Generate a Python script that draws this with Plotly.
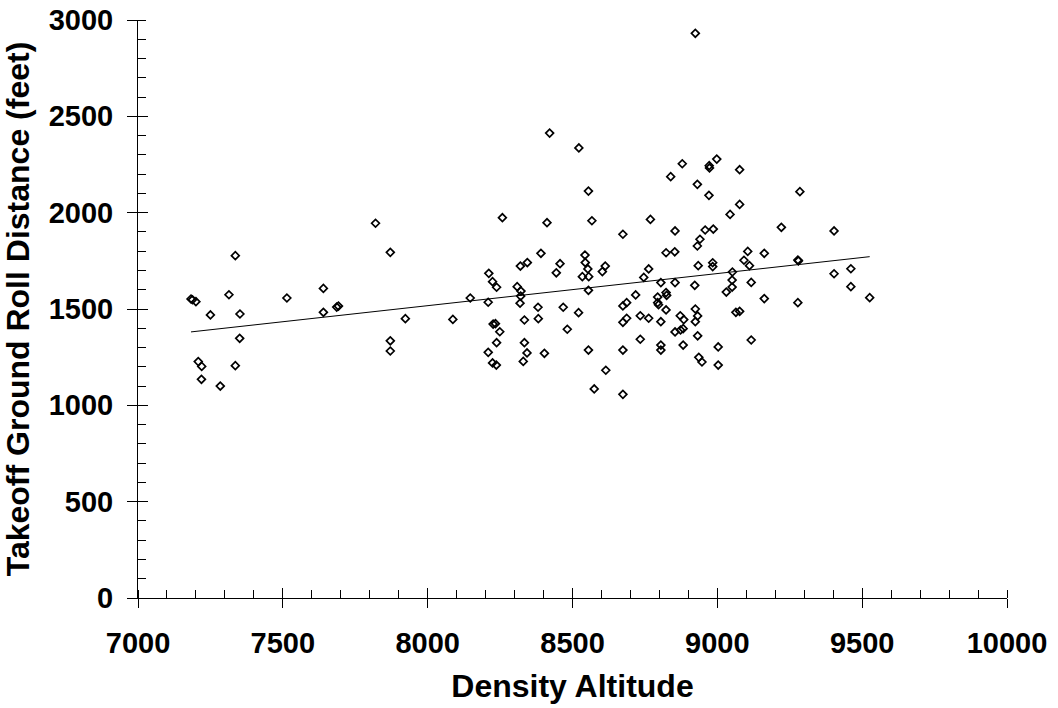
import numpy as np
import plotly.graph_objects as go

# Density altitude (ft) and measured takeoff ground roll (ft)
density_altitude = [
    7183, 7188, 7200, 7250, 7336, 7314, 7352, 7351, 7208, 7220, 7219, 7284,
    7336, 7514, 7640, 7640, 7686, 7692, 7820, 7871, 7923, 7871, 7871,
    8421, 8522, 8555, 8258, 8412, 8567, 8769, 8674, 8879, 8839, 8972, 8973,
    8998, 8931, 8971, 8854, 8958, 8986, 8940, 8931, 8823, 8853, 8984, 8984,
    8934, 8391, 8457, 8543, 8544, 8553, 8534, 8556, 8613, 8603, 8320, 8344,
    8444, 8211, 8224, 8238, 8309, 8322, 8321, 8319, 8147, 8209, 8087, 8555,
    8746, 8763, 8805, 8854, 8922, 8718, 8794, 8823, 8825, 8794, 8797, 8687,
    8674, 8823, 8924, 8932, 8381, 8468, 8521, 8334, 8382, 8226, 8234, 8249,
    8238, 8209, 8224, 8237, 8334, 8343, 8330, 8403, 8482, 8555, 8615, 8575,
    8674, 8674, 8674, 8687, 8734, 8763, 8805, 8734, 8805, 8805, 8872, 8884,
    8873, 8882, 8854, 8882, 8924, 8932, 8936, 8947, 9003, 9003, 8924,
    9077, 9077, 9044, 9285, 9221, 9403, 9105, 9162, 9092, 9111, 9278, 9280,
    9052, 9403, 9461, 9051, 9117, 9051, 9031, 9461, 9526, 9162, 9278, 9064,
    9077, 9117,
]
ground_roll = [
    1552, 1548, 1538, 1469, 1777, 1574, 1474, 1348, 1227, 1202, 1135, 1100,
    1206, 1557, 1607, 1483, 1510, 1515, 1945, 1794, 1450, 1335, 1282,
    2413, 2336, 2112, 1974, 1948, 1958, 1965, 1888, 2254, 2187, 2244, 2232,
    2278, 2147, 2090, 1905, 1910, 1915, 1862, 1827, 1792, 1797, 1740, 1720,
    1725, 1789, 1735, 1780, 1741, 1708, 1668, 1668, 1723, 1694, 1723, 1741,
    1688, 1685, 1642, 1613, 1616, 1593, 1567, 1530, 1557, 1535, 1446, 1597,
    1664, 1708, 1637, 1637, 1623, 1573, 1562, 1585, 1571, 1533, 1522, 1533,
    1516, 1495, 1500, 1464, 1509, 1509, 1481, 1443, 1450, 1422, 1424, 1382,
    1325, 1275, 1220, 1209, 1325, 1272, 1228, 1270, 1395, 1287, 1182, 1085,
    1057, 1287, 1431, 1452, 1465, 1452, 1434, 1343, 1313, 1287, 1465, 1445,
    1391, 1398, 1381, 1313, 1434, 1361, 1249, 1225, 1303, 1209, 2931,
    2223, 2043, 1991, 2109, 1924, 1905, 1799, 1789, 1753, 1725, 1754, 1750,
    1692, 1683, 1709, 1650, 1638, 1614, 1588, 1616, 1559, 1554, 1533, 1483,
    1488, 1339,
]

x_ticks = [7000, 7500, 8000, 8500, 9000, 9500, 10000]
y_ticks = [0, 500, 1000, 1500, 2000, 2500, 3000]

# least-squares trend line across the observed altitude range
xa = np.array(density_altitude, dtype=float)
ya = np.array(ground_roll, dtype=float)
slope, intercept = np.polyfit(xa, ya, 1)
fit_x = np.array([xa.min(), xa.max()])
fit_y = slope * fit_x + intercept

FONT = "Liberation Sans, Arial, sans-serif"

fig = go.Figure()
fig.add_trace(go.Scatter(
    x=density_altitude, y=ground_roll, mode="markers",
    marker=dict(symbol="diamond-open", size=6, color="black",
                line=dict(color="black", width=1.7)),
    showlegend=False, hoverinfo="x+y",
))
fig.add_trace(go.Scatter(
    x=fit_x, y=fit_y, mode="lines",
    line=dict(color="black", width=1),
    showlegend=False, hoverinfo="skip",
))
# companion axes carry the inward half of the major ticks
fig.add_trace(go.Scatter(x=[], y=[], xaxis="x2", yaxis="y2",
                         showlegend=False, hoverinfo="skip"))

tick_font = dict(family=FONT, size=29, color="black", weight="bold")
title_font = dict(family=FONT, size=32, color="black", weight="bold")

fig.update_layout(
    width=1058, height=708,
    margin=dict(l=138, r=51, t=20, b=110, autoexpand=False),
    paper_bgcolor="white", plot_bgcolor="white",
    xaxis=dict(
        range=[7000, 10000], tickvals=x_ticks, ticktext=[str(v) for v in x_ticks],
        showgrid=False, zeroline=False, showline=True, linecolor="black", linewidth=1,
        ticks="outside", ticklen=9, tickcolor="black", tickwidth=1,
        minor=dict(ticks="inside", dtick=100, ticklen=8, tickcolor="black", tickwidth=1),
        tickfont=tick_font, automargin=False, ticklabelstandoff=10,
        title=dict(text="Density Altitude", font=title_font, standoff=16),
    ),
    yaxis=dict(
        range=[0, 3000], tickvals=y_ticks, ticktext=[str(v) for v in y_ticks],
        showgrid=False, zeroline=False, showline=True, linecolor="black", linewidth=1,
        ticks="outside", ticklen=10, tickcolor="black", tickwidth=1,
        minor=dict(ticks="inside", dtick=100, ticklen=8, tickcolor="black", tickwidth=1),
        tickfont=tick_font, automargin=False, ticklabelstandoff=8,
        title=dict(text="Takeoff Ground Roll Distance (feet)", font=title_font, standoff=12),
    ),
    xaxis2=dict(
        range=[7000, 10000], overlaying="x", anchor="y2", side="bottom",
        tickvals=x_ticks, showticklabels=False, ticks="inside", ticklen=10,
        tickcolor="black", showgrid=False, zeroline=False, showline=False,
    ),
    yaxis2=dict(
        range=[0, 3000], overlaying="y", anchor="x2", side="left",
        tickvals=y_ticks, showticklabels=False, ticks="inside", ticklen=10,
        tickcolor="black", showgrid=False, zeroline=False, showline=False,
    ),
)

fig.write_html("out.html")
